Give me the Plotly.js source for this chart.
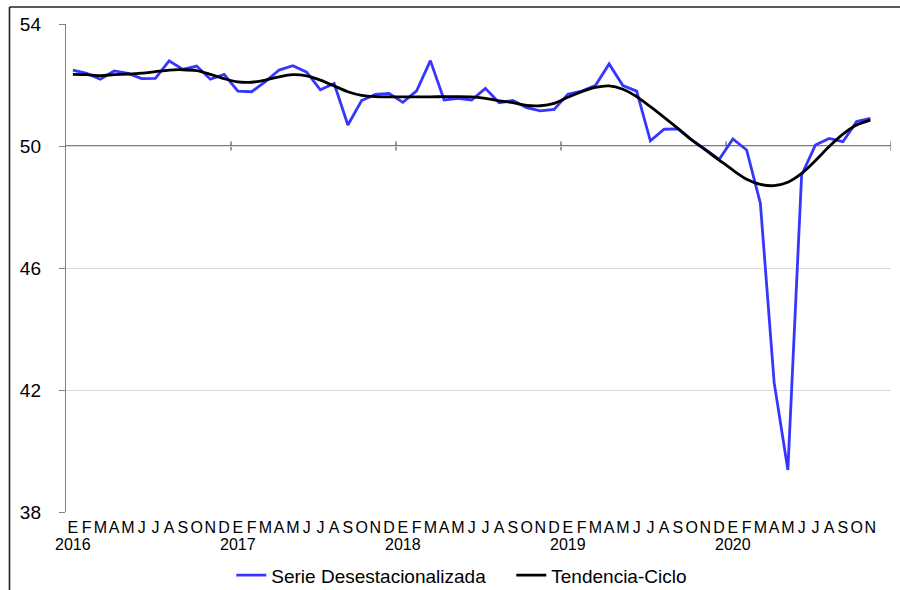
<!DOCTYPE html>
<html>
<head>
<meta charset="utf-8">
<script src="https://cdn.plot.ly/plotly-3.0.1.min.js"></script>
<style>
html,body{margin:0;padding:0;background:#fff;}
#chart{width:900px;height:590px;}
</style>
</head>
<body>
<div id="chart"></div>
<script>
// Month initials (Spanish) and years
const monthLetters = ["E","F","M","A","M","J","J","A","S","O","N","D"];
const years = [2016, 2017, 2018, 2019, 2020];

// Serie Desestacionalizada (Jan 2016 – Nov 2020)
const serie = [
  52.49, 52.38, 52.19, 52.46, 52.38, 52.21, 52.22, 52.79, 52.51, 52.62, 52.19, 52.35,
  51.80, 51.78, 52.11, 52.49, 52.63, 52.42, 51.84, 52.05, 50.69, 51.49, 51.69, 51.72,
  51.43, 51.81, 52.80, 51.51, 51.56, 51.51, 51.89, 51.42, 51.49, 51.26, 51.15, 51.20,
  51.70, 51.80, 51.98, 52.69, 51.98, 51.80, 50.17, 50.55, 50.56, 50.20, 49.89, 49.56,
  50.23, 49.87, 48.12, 42.25, 39.38, 49.05, 50.03, 50.25, 50.14, 50.80, 50.91
];

// Tendencia-Ciclo
const tendencia = [
  52.35, 52.34, 52.31, 52.34, 52.36, 52.39, 52.44, 52.49, 52.50, 52.47, 52.35, 52.21,
  52.10, 52.09, 52.16, 52.27, 52.34, 52.30, 52.16, 51.97, 51.78, 51.66, 51.62, 51.61,
  51.61, 51.61, 51.61, 51.62, 51.62, 51.61, 51.56, 51.48, 51.42, 51.33, 51.32, 51.40,
  51.60, 51.78, 51.92, 51.97, 51.86, 51.62, 51.29, 50.94, 50.58, 50.20, 49.87, 49.54,
  49.21, 48.91, 48.74, 48.70, 48.81, 49.10, 49.52, 49.98, 50.39, 50.69, 50.85
];

const yTicks = [38, 42, 46, 50, 54];

// Build index-based x values and labels
const xIdx = serie.map((_, i) => i);
const tickText = xIdx.map(i => monthLetters[i % 12]);
const totalSlots = years.length * 12;

const traces = [
  {
    x: xIdx, y: serie, type: "scatter", mode: "lines",
    name: "Serie Desestacionalizada",
    line: {color: "#3636ff", width: 2.8}
  },
  {
    x: xIdx, y: tendencia, type: "scatter", mode: "lines",
    name: "Tendencia-Ciclo",
    line: {color: "#000000", width: 2.8, shape: "spline", smoothing: 0.8}
  }
];

// Year annotations under January
const annotations = years.map((yr, k) => ({
  x: k * 12, xref: "x", y: -0.067, yref: "paper",
  text: String(yr), showarrow: false, xanchor: "center", yanchor: "middle",
  font: {family: "Liberation Sans, Arial, sans-serif", size: 16, color: "#000"}
}));

// Horizontal axis line at 50 and year tick marks
const shapes = [
  {type: "line", xref: "paper", yref: "y", x0: 0, x1: 1, y0: 50, y1: 50,
   line: {color: "#000", width: 1.2}, layer: "below"}
];
for (let k = 1; k <= years.length; k++) {
  const xb = k * 12 - 0.5;
  shapes.push({type: "line", xref: "x", yref: "y", x0: xb, x1: xb, y0: 49.85, y1: 50.15,
    line: {color: "#555", width: 1.2}, layer: "below"});
}
// outer frame (top and left edges visible)
shapes.push({type: "line", xref: "paper", yref: "paper", x0: -0.0685, x1: 1.02, y0: 1.0349, y1: 1.0349,
  line: {color: "#222", width: 1.6}});
shapes.push({type: "line", xref: "paper", yref: "paper", x0: -0.0685, x1: -0.0685, y0: -0.2, y1: 1.0349,
  line: {color: "#222", width: 1.6}});

const layout = {
  width: 900, height: 590,
  margin: {l: 66, r: 9, t: 24, b: 78},
  paper_bgcolor: "#fff", plot_bgcolor: "#fff",
  font: {family: "Liberation Sans, Arial, sans-serif", color: "#000"},
  showlegend: true,
  legend: {
    orientation: "h", xref: "container", yref: "container",
    x: 0.257, xanchor: "left", y: 0.025, yanchor: "middle",
    font: {size: 19, color: "#000"},
    entrywidth: 235, entrywidthmode: "pixels"
  },
  xaxis: {
    type: "linear", range: [-0.5, totalSlots - 0.5],
    tickmode: "array", tickvals: xIdx, ticktext: tickText,
    tickangle: 0,
    showgrid: false, zeroline: false, showline: false, ticks: "",
    ticklabelstandoff: 4,
    tickfont: {size: 16, color: "#000"},
    fixedrange: true
  },
  yaxis: {
    range: [38, 54], tickmode: "array", tickvals: yTicks,
    showgrid: true, gridcolor: "#d9d9d9", gridwidth: 1,
    zeroline: false, showline: true, linecolor: "#808080", linewidth: 1.2,
    ticks: "outside", ticklen: 6, tickcolor: "#808080",
    ticklabelstandoff: 14,
    tickfont: {size: 19, color: "#000"},
    fixedrange: true
  },
  shapes: shapes,
  annotations: annotations
};

Plotly.newPlot("chart", traces, layout, {displayModeBar: false, staticPlot: true});
</script>
</body>
</html>
